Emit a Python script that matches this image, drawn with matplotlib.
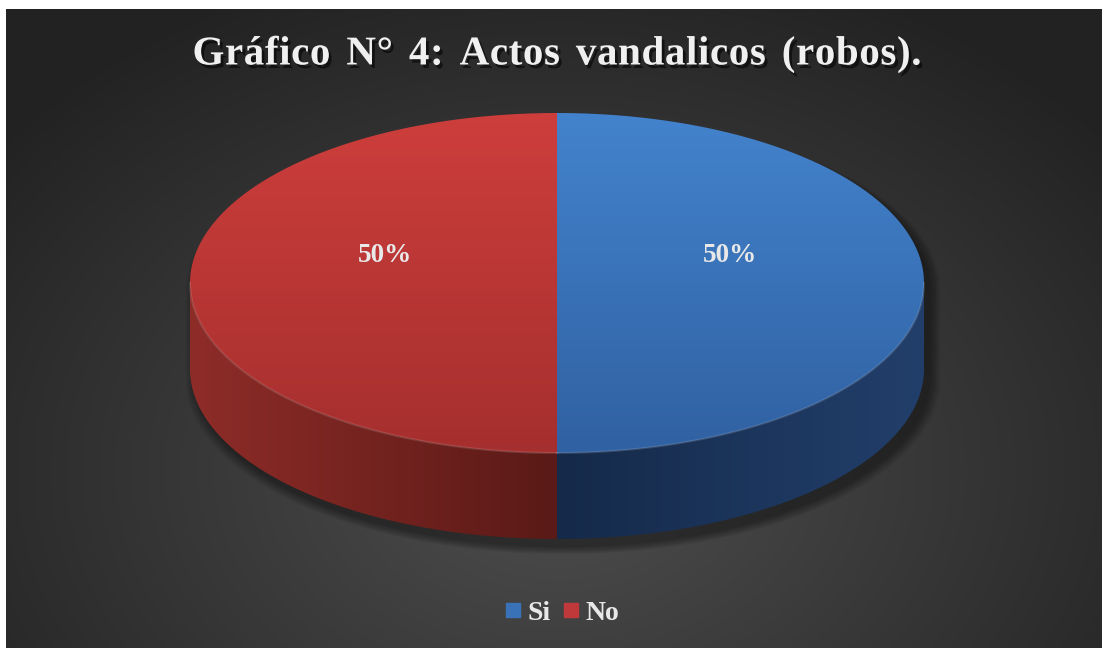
import numpy as np
import matplotlib.pyplot as plt
import matplotlib.patheffects as pe
from matplotlib.patches import Polygon
from matplotlib.lines import Line2D
from matplotlib.font_manager import FontProperties, findfont, get_font

categories = ['Si', 'No']
values = [50, 50]
title = 'Gráfico N° 4: Actos vandalicos (robos).'

top_colors = [('#4383cd', '#3061a2'), ('#cd3e3c', '#a52f2e')]    # upper, lower
side_colors = [('#152a4a', '#223f6b'), ('#5a1a17', '#8e2c28')]   # seam, outer edge
legend_colors = ['#3a72b8', '#c0393a']
text_color = '#e8e8e8'

plt.rcParams['font.family'] = 'Liberation Serif'
plt.rcParams['font.weight'] = 'bold'

W, H = 1102, 648
fig = plt.figure(figsize=(W / 100, H / 100), dpi=100)
fig.patch.set_facecolor('white')
ax = fig.add_axes([0, 0, 1, 1])
ax.set_xlim(0, W)
ax.set_ylim(H, 0)
ax.axis('off')

# dark radial background
x0, y0 = 6, 9
yy, xx = np.mgrid[y0:H, x0:W]
d = np.hypot(xx - 557, (yy - 470) * 1.35) / 720
d = np.clip(d, 0, 1)
c_in = np.array([0x4e, 0x4e, 0x4e]) / 255
c_out = np.array([0x22, 0x22, 0x22]) / 255
bg = c_in + (c_out - c_in) * d[..., None]
ax.imshow(bg, extent=(x0, W, H, y0), aspect='auto', zorder=0)

# pie geometry (pixels)
cx, cy, rx, ry, depth = 557, 283, 367, 170, 86


def rim(t, dy=0):
    return np.column_stack([cx + rx * np.cos(t), cy - ry * np.sin(t) + dy])


def hex2rgb(h):
    return np.array([int(h[i:i + 2], 16) for i in (1, 3, 5)]) / 255


def gradient_fill(poly_xy, c_a, c_b, horizontal, x_a=None, x_b=None, z=2):
    poly = Polygon(poly_xy, closed=True, facecolor='none', edgecolor='none')
    ax.add_patch(poly)
    xmin, ymin = poly_xy.min(axis=0)
    xmax, ymax = poly_xy.max(axis=0)
    n = 256
    if horizontal:
        xs = np.linspace(xmin, xmax, n)
        f = np.clip((xs - x_a) / (x_b - x_a), 0, 1)[None, :]
    else:
        f = np.linspace(0, 1, n)[:, None]
    img = hex2rgb(c_a) + (hex2rgb(c_b) - hex2rgb(c_a)) * f[..., None]
    im = ax.imshow(img, extent=(xmin, xmax, ymax, ymin), aspect='auto', zorder=z)
    im.set_clip_path(poly)


# soft shadow under the pie
t_all = np.linspace(0, 2 * np.pi, 300)
base = np.vstack([rim(t_all[t_all <= np.pi]), rim(t_all[t_all >= np.pi], depth)])
for k in range(8):
    s = 1 + k * 0.004
    pts = np.column_stack([cx + (base[:, 0] - cx) * s + 6, cy + (base[:, 1] - cy) * s + 8])
    ax.add_patch(Polygon(pts, closed=True, facecolor='black', edgecolor='none', alpha=0.05, zorder=1))

total = sum(values)
start = 90.0
spans = []
for v in values:
    span = v / total * 360
    spans.append((start - span, start))
    start -= span

# sides (front half only)
for (a1, a2), (sc_seam, sc_out) in zip(spans, side_colors):
    lo, hi = np.radians(a1), np.radians(a2)
    for off in (0, -2 * np.pi, 2 * np.pi):
        s_lo, s_hi = max(lo + off, -np.pi), min(hi + off, 0)
        if s_hi > s_lo:
            t = np.linspace(s_lo, s_hi, 120)
            poly = np.vstack([rim(t), rim(t[::-1], depth)])
            mid = (s_lo + s_hi) / 2
            x_out = cx + rx * np.sign(np.cos(mid))
            gradient_fill(poly, sc_seam, sc_out, True, x_a=cx, x_b=x_out, z=2)
            ax.plot(*rim(t).T, color='white', alpha=0.12, lw=1.5, zorder=4)

# top faces
for (a1, a2), (tc_up, tc_lo) in zip(spans, top_colors):
    t = np.radians(np.linspace(a1, a2, 200))
    poly = np.vstack([[cx, cy], rim(t)])
    gradient_fill(poly, tc_up, tc_lo, False, z=3)

# percent labels
for (a1, a2), v in zip(spans, values):
    mid = np.radians((a1 + a2) / 2)
    lx = cx + 0.47 * rx * np.cos(mid)
    ly = cy - 0.47 * ry * np.sin(mid) - 28
    ax.text(lx, ly, f'{v / total * 100:.0f}%', color=text_color, fontsize=19.5,
            fontweight='bold', ha='center', va='center', zorder=5)

# title, drawn char by char to get the wider spacing
title_size = 29.5
fp = FontProperties(family='Liberation Serif', weight='bold', size=title_size)
font = get_font(findfont(fp))
font.set_size(title_size, 100)
letter_gap, word_gap = 0.6, 4.5
advances = []
for ch in title:
    g = font.load_char(ord(ch))
    advances.append(g.linearHoriAdvance / 65536 + letter_gap + (word_gap if ch == ' ' else 0))
total_w = sum(advances) - letter_gap
tx = 557 - total_w / 2
shadow = [pe.withSimplePatchShadow(offset=(2, -2.5), shadow_rgbFace='black', alpha=0.55)]
for ch, adv in zip(title, advances):
    ax.text(tx, 55, ch, color='#f0f0f0', fontproperties=fp, ha='left', va='center',
            zorder=5, path_effects=shadow)
    tx += adv

# legend
handles = [Line2D([], [], marker='s', ls='', markersize=10.5, markerfacecolor=c,
                  markeredgecolor=c) for c in legend_colors]
leg = fig.legend(handles, categories, loc='center', bbox_to_anchor=(562 / W, 1 - 613 / H),
                 ncol=2, frameon=False, handlelength=0.6, handletextpad=0.2,
                 columnspacing=0.45, prop={'family': 'Liberation Serif', 'weight': 'bold', 'size': 20})
for txt in leg.get_texts():
    txt.set_color(text_color)

fig.savefig('out.png', dpi=100, facecolor='white')
